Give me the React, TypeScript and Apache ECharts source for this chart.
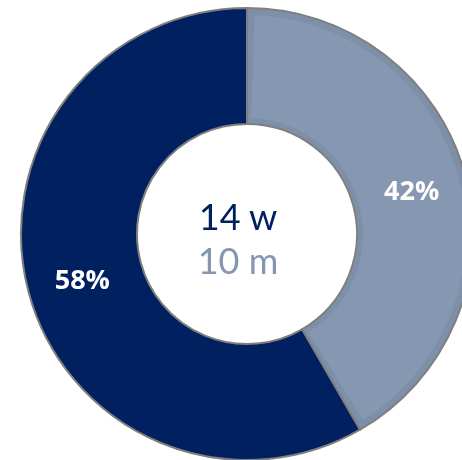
import React, { useEffect, useRef } from "react";
import * as echarts from "echarts";

const categories = ["m", "w"];
const values = [10, 14];
const sliceColors = ["#7e90a9", "#002060"];
const faceColors = ["#8698b1", "rgba(0,0,0,0)"];
const centerColors = ["#8497B0", "#002060"];

export default function App() {
  const ref = useRef<HTMLDivElement>(null);
  useEffect(() => {
    const chart = echarts.init(ref.current!, undefined, { renderer: "svg" });
    const cx = 247;
    const cy = 234;
    chart.setOption({
      animation: false,
      series: [
        {
          type: "pie",
          center: [cx, cy],
          radius: [110, 226],
          startAngle: 90,
          clockwise: true,
          silent: true,
          itemStyle: { borderColor: "#7f7f7f", borderWidth: 2 },
          label: { show: false },
          labelLine: { show: false },
          data: categories.map((c, i) => ({
            name: c,
            value: values[i],
            itemStyle: { color: sliceColors[i] },
          })),
          z: 1,
        },
        {
          type: "pie",
          center: [cx, cy],
          radius: [116, 219],
          startAngle: 90,
          clockwise: true,
          padAngle: 4,
          percentPrecision: 0,
          silent: true,
          label: {
            show: true,
            position: "inside",
            formatter: "{d}%",
            color: "#ffffff",
            fontFamily: "Open Sans",
            fontWeight: "bold",
            fontSize: 27,
          },
          labelLine: { show: false },
          itemStyle: { borderWidth: 0 },
          data: categories.map((c, i) => ({
            name: c + "_face",
            value: values[i],
            itemStyle: { color: faceColors[i] },
          })),
          z: 2,
        },
      ],
      graphic: [
        {
          type: "text",
          x: cx - 9,
          y: 216,
          z: 10,
          style: {
            text: `${values[1]} ${categories[1]}`,
            fill: centerColors[1],
            fontFamily: "Lato",
            fontSize: 36,
            align: "center",
            verticalAlign: "middle",
          },
        },
        {
          type: "text",
          x: cx - 9,
          y: 260,
          z: 10,
          style: {
            text: `${values[0]} ${categories[0]}`,
            fill: centerColors[0],
            fontFamily: "Lato",
            fontSize: 36,
            align: "center",
            verticalAlign: "middle",
          },
        },
      ],
    });
    return () => chart.dispose();
  }, []);
  return (
    <div
      ref={ref}
      style={{ position: "fixed", left: 0, top: 0, width: 462, height: 460 }}
    />
  );
}
